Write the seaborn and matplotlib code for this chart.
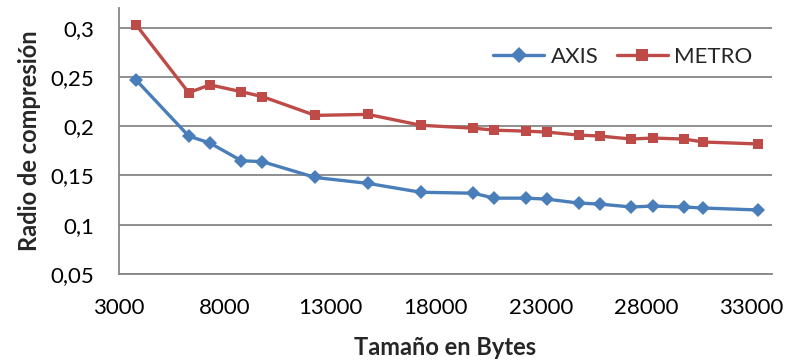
import matplotlib
matplotlib.use("Agg")
import matplotlib.pyplot as plt
import seaborn as sns
import pandas as pd

x_bytes = [3800, 6300, 7300, 8800, 9800, 12300, 14800, 17300, 19800, 20800,
           22300, 23300, 24800, 25800, 27300, 28300, 29800, 30700, 33300]
axis_vals = [0.247, 0.190, 0.183, 0.165, 0.164, 0.148, 0.142, 0.133, 0.132, 0.127,
             0.127, 0.126, 0.122, 0.121, 0.118, 0.119, 0.118, 0.117, 0.115]
metro_vals = [0.303, 0.234, 0.242, 0.235, 0.230, 0.211, 0.212, 0.201, 0.198, 0.196,
              0.195, 0.194, 0.191, 0.190, 0.187, 0.188, 0.187, 0.184, 0.182]
series_names = ["AXIS", "METRO"]
x_ticks = [3000, 8000, 13000, 18000, 23000, 28000, 33000]
y_ticks = [0.05, 0.10, 0.15, 0.20, 0.25, 0.30]
y_tick_labels = ["0,05", "0,1", "0,15", "0,2", "0,25", "0,3"]

df = pd.DataFrame({
    "x": x_bytes * 2,
    "y": axis_vals + metro_vals,
    "serie": [series_names[0]] * len(x_bytes) + [series_names[1]] * len(x_bytes),
})

sns.set_style("white")
plt.rcParams['font.family'] = ['Lato', 'DejaVu Sans']

fig = plt.figure(figsize=(7.89, 3.62), dpi=100)
ax = fig.add_axes([0.151, 0.243, 0.827, 0.735])

grid_c = "#868686"
for yv in y_ticks:
    ax.axhline(yv, color=grid_c, lw=1.3, zorder=0)

sns.lineplot(data=df, x="x", y="y", hue="serie", style="serie",
             palette={"AXIS": "#4A7EBB", "METRO": "#BE4B48"},
             markers={"AXIS": "D", "METRO": "s"}, dashes=False,
             linewidth=2.4, markersize=7, markeredgewidth=0, ax=ax, zorder=3)

ax.set_xlim(3000, 33950)
ax.set_ylim(0.05, 0.32)
ax.set_xticks(x_ticks)
ax.set_xticklabels([str(v) for v in x_ticks])
ax.set_yticks(y_ticks)
ax.set_yticklabels(y_tick_labels)
ax.tick_params(axis="both", direction="out", length=7, width=1.3, color=grid_c,
               labelsize=16, labelcolor="black")
ax.tick_params(axis="x", pad=10)
ax.tick_params(axis="y", pad=11)
for s in ["top", "right"]:
    ax.spines[s].set_visible(False)
for s in ["left", "bottom"]:
    ax.spines[s].set_color(grid_c)
    ax.spines[s].set_linewidth(1.3)

ax.set_xlabel("Tamaño en Bytes", fontsize=17, fontweight="bold", labelpad=13)
ax.set_ylabel("Radio de compresión", fontsize=17, fontweight="bold", labelpad=7)

leg = ax.legend(loc="center right", bbox_to_anchor=(0.971, 0.816), ncol=2, frameon=False,
                fontsize=16, handlelength=2.3, columnspacing=0.8, handletextpad=0.3,
                borderpad=0, borderaxespad=0)
leg.set_title(None)
for h in leg.legend_handles:
    h.set_markersize(8)

fig.savefig("out.png", dpi=100)
